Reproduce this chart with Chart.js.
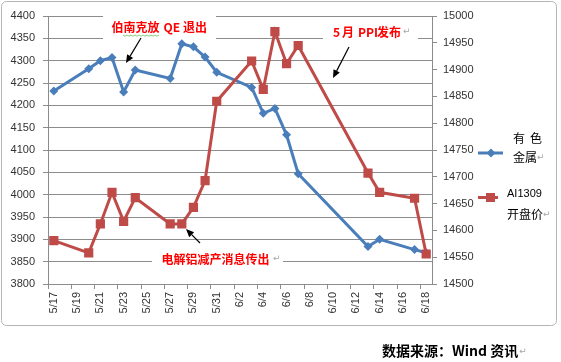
<!DOCTYPE html>
<html><head><meta charset="utf-8">
<script src="https://cdn.jsdelivr.net/npm/chart.js@4.4.0/dist/chart.umd.min.js"></script>
<style>html,body{margin:0;padding:0;background:#fff;} canvas{display:block;}</style>
</head><body>
<canvas id="c" width="561" height="362"></canvas>
<script>
// ---- data ----
const days = ['5/17','5/18','5/19','5/20','5/21','5/22','5/23','5/24','5/25','5/26','5/27','5/28','5/29','5/30','5/31',
  '6/1','6/2','6/3','6/4','6/5','6/6','6/7','6/8','6/9','6/10','6/11','6/12','6/13','6/14','6/15','6/16','6/17','6/18'];
const tickLabels = ['5/17','5/19','5/21','5/23','5/25','5/27','5/29','5/31','6/2','6/4','6/6','6/8','6/10','6/12','6/14','6/16','6/18'];
const tradeDates = ['5/17','5/20','5/21','5/22','5/23','5/24','5/27','5/28','5/29','5/30','5/31','6/3','6/4','6/5','6/6','6/7','6/13','6/14','6/17','6/18'];
const metalValues = [4232,4282,4300,4307,4230,4279,4260,4338,4331,4308,4274,4240,4182,4193,4134,4047,3884,3900,3877,3870];
const alValues = [14581,14558,14612,14671,14617,14661,14612,14612,14643,14693,14841,14916,14863,14971,14911,14945,14707,14671,14660,14556];
const leftAxis = {min:3800, max:4400, step:50};
const rightAxis = {min:14500, max:15000, step:50};
const seriesNames = ['有 色金属','AI1309开盘价'];

const BLUE = '#4A7EBB', RED = '#BE4B48', GRID = '#8C8C8C';

Chart.defaults.font.family = '"Liberation Sans", Arial, sans-serif';
Chart.defaults.font.size = 11;
Chart.defaults.color = '#333';

function arrow(ctx,x1,y1,x2,y2){
  const a = Math.atan2(y2-y1,x2-x1), L = 8, W = 3.5;
  const bx = x2 - L*Math.cos(a), by = y2 - L*Math.sin(a);
  ctx.beginPath(); ctx.moveTo(x1,y1); ctx.lineTo(bx,by);
  ctx.strokeStyle='#000'; ctx.lineWidth=1.2; ctx.stroke();
  ctx.beginPath(); ctx.moveTo(x2,y2);
  ctx.lineTo(bx + W*Math.sin(a), by - W*Math.cos(a));
  ctx.lineTo(bx - W*Math.sin(a), by + W*Math.cos(a));
  ctx.closePath(); ctx.fillStyle='#000'; ctx.fill();
}
function ret(ctx,x,y){
  ctx.font = '9px "DejaVu Sans"'; ctx.fillStyle = '#A6A6A6';
  ctx.textBaseline='middle'; ctx.textAlign='left';
  ctx.fillText('↵',x,y);
}

const annot = {
  id:'annot',
  beforeDatasetsDraw(chart){
    const ctx = chart.ctx; ctx.save();
    ctx.fillStyle='#fff';
    ctx.fillRect(103,13,113,27);
    ctx.fillRect(323,21,95,22);
    ctx.fillRect(152,249,131,20);
    ctx.restore();
  },
  afterDraw(chart){
    const ctx = chart.ctx; ctx.save();
    // border
    ctx.strokeStyle='#B4B4B4'; ctx.lineWidth=1;
    ctx.beginPath(); ctx.roundRect(1.5,1.5,555,324,5); ctx.stroke();
    // annotation texts
    ctx.fillStyle='#FF0000'; ctx.textBaseline='middle'; ctx.textAlign='left';
    ctx.font='bold 12px "Noto Sans CJK SC"';
    ctx.fillText('伯南克放',111.5,27.5);
    ctx.fillText('QE',163.5,27.5);
    ctx.fillText('退出',183,27.5);
    // spell-check squiggle
    ctx.strokeStyle='#6BBF59'; ctx.lineWidth=0.8; ctx.beginPath();
    for(let x=123;x<=160;x+=2){ ctx.lineTo(x, 35 + ((x-123)%4===0?0:1.2)); }
    ctx.stroke();
    ctx.fillStyle='#FF0000';
    ctx.fillText('5',333,32.5);
    ctx.fillText('月',342,32.5);
    ctx.fillText('PPI',358,32.5);
    ctx.fillText('发布',377,32.5);
    ret(ctx,403,32);
    ctx.fillStyle='#FF0000'; ctx.font='bold 12px "Noto Sans CJK SC"';
    ctx.fillText('电解铝减产消息传出',161.5,259);
    ret(ctx,273,259);
    // arrows
    arrow(ctx,141,38,126,63);
    arrow(ctx,349,47,333,78);
    arrow(ctx,200,243,186,229);
    // legend
    ctx.strokeStyle=BLUE; ctx.lineWidth=3;
    ctx.beginPath(); ctx.moveTo(478,153); ctx.lineTo(503,153); ctx.stroke();
    ctx.fillStyle=BLUE; ctx.beginPath();
    ctx.moveTo(491,148.5); ctx.lineTo(495.5,153); ctx.lineTo(491,157.5); ctx.lineTo(486.5,153); ctx.closePath(); ctx.fill();
    ctx.strokeStyle=RED;
    ctx.beginPath(); ctx.moveTo(478,197.5); ctx.lineTo(498,197.5); ctx.stroke();
    ctx.fillStyle=RED; ctx.fillRect(486,193,9,9);
    ctx.fillStyle='#000'; ctx.font='12px "Noto Sans CJK SC"';
    ctx.fillText('有',513,138); ctx.fillText('色',530,138);
    ctx.fillText('金属',513,157.5); ret(ctx,537,158);
    ctx.fillStyle='#000'; ctx.font='11px "Liberation Sans"';
    ctx.fillText('AI1309',507,193.5);
    ctx.font='12px "Noto Sans CJK SC"';
    ctx.fillText('开盘价',507,214.5); ret(ctx,543,215);
    // source
    ctx.fillStyle='#000'; ctx.font='bold 14px "Noto Sans CJK SC"';
    ctx.fillText('数据来源：Wind 资讯',382,351);
    const w = ctx.measureText('数据来源：Wind 资讯').width;
    ret(ctx,382+w+1,352);
    ctx.restore();
  }
};

const toPts = vals => tradeDates.map((d,i)=>({x:d,y:vals[i]}));

new Chart(document.getElementById('c'), {
  type:'line',
  data:{
    labels: days,
    datasets:[
      {label:seriesNames[1], data:toPts(alValues), yAxisID:'y2', borderColor:RED, backgroundColor:RED,
       borderWidth:3, pointStyle:'rect', pointRadius:6.5, pointBorderWidth:0, tension:0},
      {label:seriesNames[0], data:toPts(metalValues), yAxisID:'y', borderColor:BLUE, backgroundColor:BLUE,
       borderWidth:3, pointStyle:'rectRot', pointRadius:4.5, pointBorderWidth:0, tension:0}
    ]
  },
  options:{
    responsive:false, animation:false, devicePixelRatio:1,
    layout:{padding:{top:16,left:0,right:84,bottom:38}},
    plugins:{legend:{display:false}, tooltip:{enabled:false}},
    scales:{
      x:{type:'category', offset:true,
        grid:{offset:true, drawOnChartArea:false, tickLength:5,
          color: c => (c.index%2===0 ? GRID : 'rgba(0,0,0,0)')},
        border:{display:true,color:GRID},
        ticks:{autoSkip:false, minRotation:90, maxRotation:90, padding:3,
          callback:(v,i)=> tickLabels.includes(days[i]) ? days[i] : ''},
        afterFit: s => { s.height = 40; }
      },
      y:{position:'left', min:leftAxis.min, max:leftAxis.max,
        grid:{color:GRID, tickLength:5},
        border:{display:true,color:GRID},
        ticks:{stepSize:leftAxis.step, padding:8, callback:v=>String(v)},
        afterFit: s => { s.width = 48; }
      },
      y2:{position:'right', min:rightAxis.min, max:rightAxis.max,
        grid:{drawOnChartArea:false, color:GRID, tickLength:5},
        border:{display:true,color:GRID},
        ticks:{stepSize:rightAxis.step, padding:6, callback:v=>String(v)},
        afterFit: s => { s.width = 45; }
      }
    }
  },
  plugins:[annot]
});
</script>
</body></html>
